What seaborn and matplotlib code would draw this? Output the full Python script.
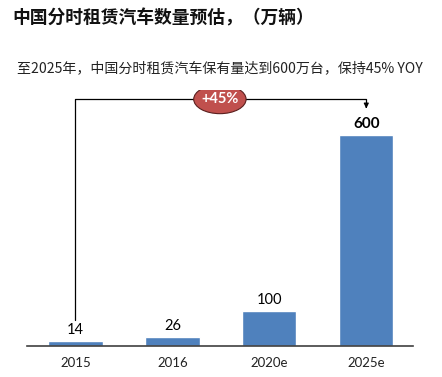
import seaborn as sns
import matplotlib.pyplot as plt
from matplotlib.patches import Ellipse
import pandas as pd

years = ['2015', '2016', '2020e', '2025e']
cars = [14, 26, 100, 600]  # 万辆
growth_label = '+45%'

title = '中国分时租赁汽车数量预估，（万辆）'
subtitle = '至2025年，中国分时租赁汽车保有量达到600万台，保持45% YOY'

df = pd.DataFrame({'year': years, 'cars': cars})

sns.set_style('white')
cjk = ['Noto Sans CJK SC', 'DejaVu Sans']
num_font = 'Lato'

fig = plt.figure(figsize=(4.42, 3.77), dpi=100)
ax = fig.add_axes([0.061, 0.082, 0.873, 0.679])

sns.barplot(data=df, x='year', y='cars', color='#4f81bd', saturation=1,
            width=0.56, ax=ax)

ax.set_xlim(-0.5, 3.48)
ax.set_ylim(0, 728)
for s in ['top', 'left', 'right']:
    ax.spines[s].set_visible(False)
ax.spines['bottom'].set_color('#404040')
ax.spines['bottom'].set_linewidth(1.2)
ax.set_yticks([])
ax.set_xlabel('')
ax.set_ylabel('')
ax.tick_params(axis='x', length=0, pad=8)
for lab in ax.get_xticklabels():
    lab.set_fontfamily(num_font)
    lab.set_fontsize(9.5)
    lab.set_color('#222222')

# value labels
for i, v in enumerate(cars):
    last = i == len(cars) - 1
    ax.text(i, v + 12, str(v), ha='center', va='bottom',
            fontsize=11 if last else 10.5, family=num_font,
            fontweight='bold' if last else 'normal', color='black')

# growth arrow
y_top = 702
ax.plot([0, 0, 3, 3], [74, y_top, y_top, 684], color='black', lw=0.9)
ax.annotate('', xy=(3, 668), xytext=(3, 690),
            arrowprops=dict(arrowstyle='-|>', color='black', lw=0.9,
                            mutation_scale=7))
ell = Ellipse((1.49, y_top), width=0.54, height=82, facecolor='#c0504d',
              edgecolor='#5a1f1e', lw=0.8, zorder=5)
ax.add_patch(ell)
ax.text(1.49, y_top, growth_label, ha='center', va='center', color='white',
        fontsize=10.5, fontweight='bold', family=num_font, zorder=6)

fig.text(0.027, 0.952, title, ha='left', va='center', fontsize=12.8,
         fontweight='bold', family=cjk, color='#111111')
fig.text(0.038, 0.82, subtitle, ha='left', va='center', fontsize=10.1,
         family=cjk, color='#222222')

fig.savefig('out.png', dpi=100, facecolor='white')
